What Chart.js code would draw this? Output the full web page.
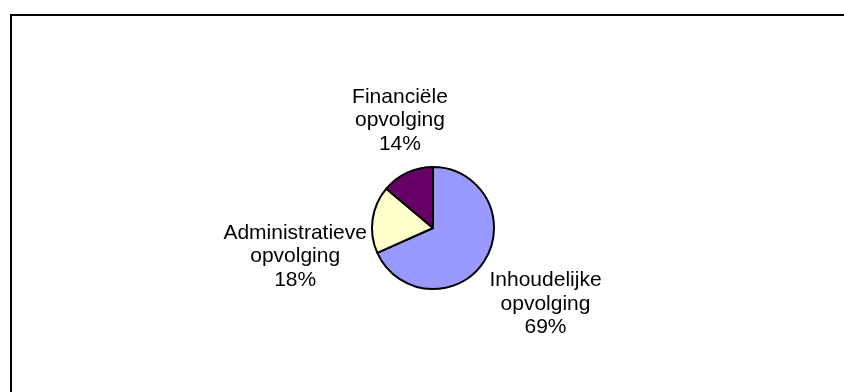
<!DOCTYPE html>
<html>
<head>
<meta charset="utf-8">
<script src="https://cdn.jsdelivr.net/npm/chart.js@4"></script>
<style>
  html, body { margin: 0; padding: 0; background: #fff; }
  #wrap { position: relative; width: 844px; height: 392px; }
</style>
</head>
<body>
<div id="wrap"><canvas id="chart" width="844" height="392"></canvas></div>
<script>
const categories = ["Inhoudelijke opvolging", "Administratieve opvolging", "Financiële opvolging"];
const shares = [69, 18, 14];
const sliceColors = ["#9999FF", "#FFFFCC", "#660066"];

// frame lines along the top and left edge
const framePlugin = {
  id: "frame",
  beforeDraw(chart) {
    const ctx = chart.ctx;
    ctx.save();
    ctx.strokeStyle = "#000";
    ctx.lineWidth = 2;
    ctx.beginPath();
    ctx.moveTo(11, 400);
    ctx.lineTo(11, 15);
    ctx.lineTo(850, 15);
    ctx.stroke();
    ctx.restore();
  },
};

// category name + share, placed outside each slice at its mid angle
const sliceLabels = {
  id: "sliceLabels",
  afterDatasetsDraw(chart, args, opts) {
    const ctx = chart.ctx;
    const meta = chart.getDatasetMeta(0);
    ctx.save();
    ctx.font = opts.font;
    ctx.fillStyle = "#000";
    ctx.textAlign = "center";
    ctx.textBaseline = "alphabetic";
    meta.data.forEach((arc, i) => {
      const p = arc.getProps(["x", "y", "startAngle", "endAngle", "outerRadius"], true);
      const mid = (p.startAngle + p.endAngle) / 2;
      const d = p.outerRadius + opts.gap;
      const shift = opts.shift[i] || [0, 0];
      const cx = p.x + Math.cos(mid) * d + shift[0];
      const cy = p.y + Math.sin(mid) * d + shift[1];
      const words = categories[i].split(" ");
      const lines = [words[0], words[1], shares[i] + "%"];
      lines.forEach((txt, k) => {
        ctx.fillText(txt, cx, cy + (k - 1) * opts.lineHeight);
      });
    });
    ctx.restore();
  },
};

new Chart(document.getElementById("chart"), {
  type: "pie",
  data: {
    labels: categories,
    datasets: [
      {
        data: shares,
        backgroundColor: sliceColors,
        borderColor: "#000",
        borderWidth: 2,
      },
    ],
  },
  options: {
    responsive: false,
    animation: false,
    layout: {
      padding: { left: 371, right: 349, top: 166, bottom: 102 },
    },
    plugins: {
      legend: { display: false },
      tooltip: { enabled: false },
      sliceLabels: {
        font: '21px "Liberation Sans", Arial, sans-serif',
        lineHeight: 23.5,
        gap: 60,
        shift: [[11, 16], [-18, 51], [18, 8]],
      },
    },
  },
  plugins: [framePlugin, sliceLabels],
});
</script>
</body>
</html>
